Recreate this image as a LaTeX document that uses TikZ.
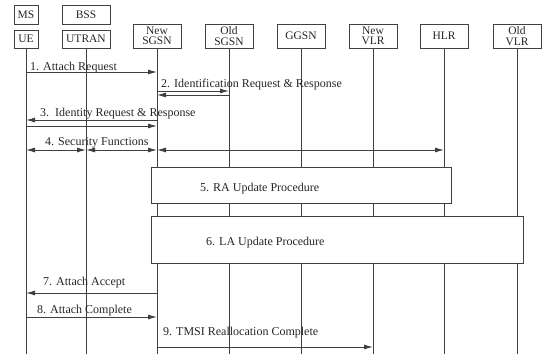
\documentclass[tikz,border=0pt]{standalone}
\usepackage{fontspec}
\setmainfont{Liberation Serif}
\usetikzlibrary{arrows.meta}
\begin{document}
\begin{tikzpicture}[x=1pt,y=-1pt,
  ln/.style={draw=black!75, line width=1pt},
  head/.style={draw=black!75, line width=1pt, minimum width=48pt, minimum height=24pt, inner sep=0pt, align=center, font=\fontsize{11.5}{10.5}\selectfont, text=black!85},
  msg/.style={draw=black!75, line width=1pt, -{Latex[length=9pt,width=5pt]}},
  dmsg/.style={draw=black!75, line width=1pt, {Latex[length=9pt,width=5pt]}-{Latex[length=9pt,width=5pt]}},
  lbl/.style={anchor=base west, inner sep=0pt, font=\fontsize{12}{14}\selectfont, text=black!85},
  proc/.style={draw=black!75, fill=white, line width=1pt, inner sep=0pt}
]
\useasboundingbox (0,0) rectangle (542,354);
% heads
\node[head, minimum width=24pt, minimum height=19pt] (ms) at (26,14.5) {MS};
\node[head, minimum height=19pt] (bss) at (86,14.5) {BSS};
\node[head, minimum width=24pt, minimum height=18pt] (ue) at (26,39) {UE};
\node[head, minimum height=18pt] (utran) at (86,39) {UTRAN};
\node[head] (nsgsn) at (157,36) {New\\SGSN};
\node[head] (osgsn) at (229,36) {Old\\SGSN};
\node[head] (ggsn) at (301,36) {GGSN};
\node[head] (nvlr) at (373,36) {New\\VLR};
\node[head] (hlr) at (444,36) {HLR};
\node[head] (ovlr) at (517,36) {Old\\VLR};
\coordinate (bot) at (0,354);
% lifelines
\foreach \n in {ue,utran,nsgsn,osgsn,ggsn,nvlr,hlr,ovlr}
  \draw[ln] (\n.south) -- (\n.south |- bot);
% procedures
\node[proc, minimum width=300pt, minimum height=36pt] (ra) at (301,185) {};
\node[proc, minimum width=372pt, minimum height=47pt] (la) at (337,239.5) {};
\node[lbl] (l5) at (200,191) {5. RA Update Procedure};
\node[lbl] (l6) at (206,245) {6. LA Update Procedure};
% message rows
\coordinate (r1) at (0,72);
\coordinate (r2a) at (0,91);
\coordinate (r2b) at (0,95);
\coordinate (r3a) at (0,120);
\coordinate (r3b) at (0,126);
\coordinate (r4) at (0,150);
\coordinate (r7) at (0,293);
\coordinate (r8) at (0,317);
\coordinate (r9) at (0,347);
% messages
\node[lbl] (l1) at (30,70) {1. Attach Request};
\draw[msg] (ue |- r1) -- (nsgsn |- r1);
\node[lbl] (l2) at (161,87) {2. Identification Request \& Response};
\draw[msg] (nsgsn |- r2a) -- (osgsn |- r2a);
\draw[msg] (osgsn |- r2b) -- (nsgsn |- r2b);
\node[lbl] (l3) at (40,116) {3.\ \ Identity Request \& Response};
\draw[msg] (nsgsn |- r3a) -- (ue |- r3a);
\draw[msg] (ue |- r3b) -- (nsgsn |- r3b);
\node[lbl] (l4) at (45,145) {4. Security Functions};
\draw[dmsg] (ue |- r4) -- (utran |- r4);
\draw[dmsg] (utran |- r4) -- (nsgsn |- r4);
\draw[dmsg] (nsgsn |- r4) -- (hlr |- r4);
\node[lbl] (l7) at (43,285) {7. Attach Accept};
\draw[msg] (nsgsn |- r7) -- (ue |- r7);
\node[lbl] (l8) at (37,313) {8. Attach Complete};
\draw[msg] (ue |- r8) -- (nsgsn |- r8);
\node[lbl] (l9) at (163,335) {9. TMSI Reallocation Complete};
\draw[msg] (nsgsn |- r9) -- (nvlr |- r9);
\end{tikzpicture}
\end{document}
